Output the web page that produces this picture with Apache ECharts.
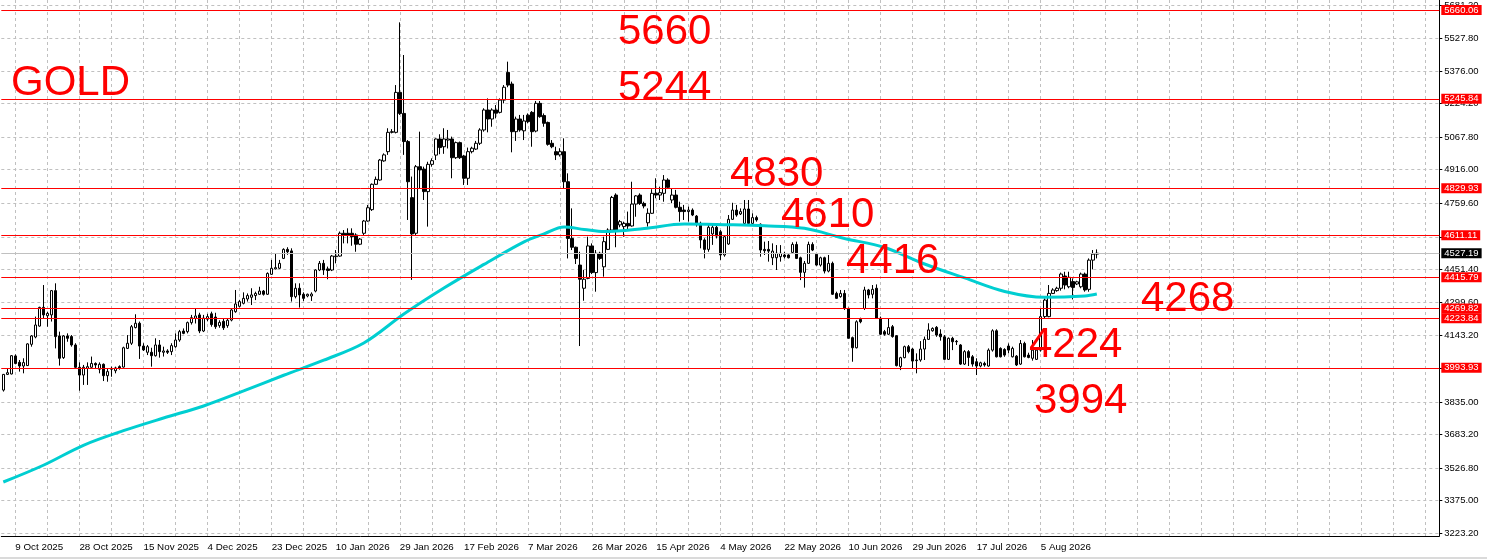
<!DOCTYPE html>
<html>
<head>
	<meta charset="UTF-8" />
	<title>GOLD Daily</title>
	<script src="https://cdn.jsdelivr.net/npm/echarts@6/dist/echarts.min.js"></script>
	<style>
		html, body { margin: 0; padding: 0; background: #fff; }
		#chart { width: 1487px; height: 559px; }
	</style>
</head>
<body>
	<div id="chart"></div>
	<script type="text/javascript">
		// date labels, one every 16 bars starting at bar 3
		const dateLabels = ['9 Oct 2025', '28 Oct 2025', '15 Nov 2025', '4 Dec 2025', '23 Dec 2025',
			'10 Jan 2026', '29 Jan 2026', '17 Feb 2026', '7 Mar 2026', '26 Mar 2026', '15 Apr 2026',
			'4 May 2026', '22 May 2026', '10 Jun 2026', '29 Jun 2026', '17 Jul 2026', '5 Aug 2026'];
		const barCount = 359;

		// price scale ticks (right side)
		const yTicks = [5681.2, 5527.8, 5376.0, 5224.2, 5067.8, 4916.0, 4759.6, 4603.2, 4451.4,
			4299.6, 4143.2, 3991.4, 3835.0, 3683.2, 3526.8, 3375.0, 3223.2];

		// horizontal levels and current bid
		const levels = [5660.06, 5245.84, 4829.93, 4611.11, 4415.79, 4269.82, 4223.84, 3993.93];
		const bidPrice = 4527.19;

		// daily bars: open, high, low, close
		const ohlc = [
			[3890, 3965, 3883, 3963], [3963, 3991, 3960, 3971], [3965, 4053, 3963, 4050], [4049, 4056, 4010, 4014],
			[4019, 4030, 3976, 4002], [4002, 4038, 3968, 4018], [4004, 4108, 4002, 4105], [4103, 4146, 4092, 4142],
			[4137, 4232, 4131, 4193], [4188, 4278, 4185, 4275], [4275, 4379, 4224, 4240], [4236, 4255, 4185, 4247],
			[4240, 4356, 4209, 4353], [4353, 4387, 4084, 4139], [4142, 4162, 4004, 4038], [4041, 4146, 4035, 4142],
			[4142, 4154, 4115, 4131], [4139, 4146, 4092, 4100], [4100, 4108, 3991, 3996], [3996, 4019, 3887, 3960],
			[3960, 4007, 3914, 3996], [3991, 4019, 3914, 3999], [3996, 4046, 3994, 4014], [4014, 4019, 3988, 4007],
			[3987, 4019, 3968, 4010], [4010, 4014, 3932, 3957], [3957, 3991, 3929, 3976], [3991, 3999, 3952, 3987],
			[3980, 3999, 3968, 3993], [3999, 4005, 3985, 3991], [3997, 4092, 3994, 4087], [4084, 4146, 4081, 4108],
			[4108, 4193, 4100, 4185], [4181, 4243, 4177, 4201], [4201, 4209, 4035, 4095], [4095, 4108, 4072, 4077],
			[4066, 4100, 4053, 4092], [4066, 4087, 3999, 4050], [4050, 4131, 4046, 4100], [4100, 4123, 4041, 4069],
			[4066, 4092, 4046, 4072], [4072, 4080, 4058, 4066], [4069, 4108, 4053, 4097], [4092, 4154, 4087, 4123],
			[4123, 4170, 4115, 4162], [4165, 4177, 4150, 4154], [4162, 4209, 4154, 4204], [4204, 4240, 4195, 4227],
			[4224, 4270, 4200, 4235], [4240, 4250, 4155, 4165], [4165, 4240, 4160, 4225], [4220, 4245, 4210, 4232],
			[4245, 4255, 4185, 4195], [4230, 4250, 4175, 4185], [4190, 4215, 4180, 4205], [4210, 4222, 4170, 4180],
			[4190, 4225, 4180, 4215], [4216, 4268, 4210, 4263], [4255, 4356, 4250, 4291], [4280, 4310, 4275, 4302],
			[4294, 4345, 4289, 4317], [4314, 4340, 4302, 4330], [4322, 4364, 4286, 4333], [4330, 4348, 4309, 4340],
			[4336, 4371, 4333, 4351], [4351, 4356, 4330, 4336], [4336, 4438, 4333, 4433], [4429, 4496, 4426, 4457],
			[4454, 4527, 4452, 4460], [4457, 4496, 4454, 4480], [4503, 4550, 4500, 4545], [4545, 4555, 4520, 4534],
			[4538, 4550, 4302, 4325], [4325, 4387, 4317, 4364], [4364, 4387, 4274, 4333], [4336, 4345, 4305, 4317],
			[4328, 4339, 4322, 4336], [4328, 4345, 4305, 4337], [4351, 4452, 4345, 4449], [4449, 4491, 4444, 4480],
			[4480, 4496, 4426, 4449], [4454, 4465, 4406, 4447], [4449, 4519, 4444, 4514], [4511, 4542, 4480, 4514],
			[4514, 4628, 4511, 4620], [4620, 4635, 4573, 4612], [4620, 4643, 4573, 4612], [4620, 4643, 4562, 4604],
			[4612, 4620, 4534, 4569], [4569, 4598, 4565, 4593], [4620, 4682, 4612, 4677], [4677, 4752, 4674, 4739],
			[4730, 4852, 4724, 4848], [4848, 4884, 4845, 4871], [4868, 4966, 4865, 4961], [4957, 4992, 4953, 4985],
			[5000, 5109, 4985, 5090], [5090, 5105, 5085, 5093], [5090, 5310, 5085, 5276], [5276, 5602, 5171, 5178],
			[5178, 5450, 4985, 5047], [5047, 5054, 4682, 4860], [4786, 4884, 4403, 4617], [4620, 4938, 4612, 4930],
			[4930, 5093, 4829, 4915], [4919, 4930, 4775, 4814], [4814, 4953, 4651, 4941], [4941, 4969, 4930, 4958],
			[4984, 5062, 4961, 5059], [5059, 5081, 4988, 5019], [5023, 5109, 4990, 5059], [5054, 5101, 5015, 5059],
			[5059, 5070, 4876, 4972], [4972, 5047, 4966, 5042], [5042, 5047, 4966, 4972], [4980, 4985, 4845, 4876],
			[4876, 5019, 4845, 5000], [5000, 5023, 4992, 5016], [5012, 5050, 5008, 5039], [5039, 5109, 5031, 5101],
			[5101, 5202, 5093, 5194], [5194, 5248, 5090, 5152], [5152, 5202, 5116, 5194], [5194, 5217, 5155, 5179],
			[5183, 5248, 5178, 5240], [5240, 5310, 5225, 5300], [5369, 5419, 5300, 5310], [5315, 5326, 4997, 5093],
			[5093, 5163, 5050, 5152], [5152, 5171, 5093, 5101], [5097, 5171, 5054, 5143], [5170, 5178, 5132, 5140],
			[5183, 5189, 5023, 5093], [5096, 5236, 5090, 5225], [5225, 5236, 5158, 5163], [5168, 5178, 5116, 5132],
			[5136, 5140, 5028, 5034], [5039, 5054, 5016, 5023], [5000, 5023, 4961, 4985], [4985, 5016, 4977, 5000],
			[5000, 5062, 4829, 4860], [4860, 4899, 4503, 4596], [4596, 4736, 4542, 4555], [4555, 4558, 4477, 4503],
			[4472, 4534, 4095, 4406], [4364, 4449, 4306, 4406], [4410, 4604, 4406, 4561], [4561, 4573, 4430, 4437],
			[4437, 4542, 4348, 4527], [4527, 4534, 4496, 4503], [4464, 4604, 4418, 4581], [4545, 4643, 4542, 4635],
			[4635, 4794, 4628, 4787], [4798, 4806, 4555, 4632], [4659, 4682, 4648, 4674], [4651, 4674, 4604, 4666],
			[4666, 4721, 4635, 4654], [4654, 4860, 4651, 4756], [4756, 4798, 4697, 4794], [4798, 4806, 4752, 4759],
			[4759, 4767, 4736, 4747], [4669, 4736, 4651, 4713], [4713, 4825, 4710, 4806], [4806, 4876, 4783, 4798],
			[4798, 4837, 4775, 4809], [4806, 4891, 4767, 4868], [4868, 4876, 4829, 4834], [4775, 4829, 4760, 4798],
			[4798, 4822, 4736, 4741], [4741, 4767, 4674, 4721], [4728, 4752, 4682, 4721], [4721, 4744, 4674, 4728],
			[4728, 4736, 4700, 4705], [4700, 4705, 4651, 4666], [4666, 4674, 4550, 4589], [4589, 4597, 4503, 4545],
			[4545, 4659, 4534, 4648], [4617, 4659, 4566, 4648], [4648, 4659, 4596, 4607], [4627, 4635, 4496, 4519],
			[4519, 4612, 4511, 4604], [4570, 4705, 4566, 4685], [4685, 4762, 4682, 4728], [4728, 4752, 4697, 4705],
			[4710, 4736, 4705, 4721], [4666, 4775, 4662, 4733], [4733, 4775, 4659, 4666], [4666, 4713, 4662, 4693],
			[4693, 4702, 4674, 4682], [4662, 4666, 4511, 4542], [4545, 4581, 4519, 4539], [4545, 4584, 4488, 4537],
			[4506, 4573, 4472, 4537], [4506, 4565, 4449, 4527], [4511, 4565, 4488, 4527], [4519, 4534, 4503, 4511],
			[4519, 4522, 4503, 4506], [4531, 4578, 4527, 4568], [4568, 4581, 4500, 4503], [4506, 4511, 4402, 4438],
			[4438, 4491, 4367, 4480], [4480, 4581, 4477, 4568], [4568, 4578, 4537, 4542], [4522, 4527, 4469, 4472],
			[4472, 4511, 4465, 4506], [4506, 4511, 4433, 4444], [4444, 4519, 4438, 4480], [4480, 4488, 4333, 4336],
			[4340, 4348, 4314, 4317], [4325, 4356, 4320, 4340], [4340, 4356, 4263, 4270], [4270, 4274, 4131, 4131],
			[4134, 4139, 4022, 4087], [4087, 4215, 4084, 4208], [4219, 4227, 4201, 4208], [4270, 4371, 4263, 4356],
			[4356, 4361, 4317, 4333], [4336, 4379, 4317, 4359], [4364, 4382, 4221, 4224], [4224, 4232, 4146, 4150],
			[4162, 4170, 4143, 4150], [4150, 4221, 4146, 4181], [4185, 4193, 4134, 4139], [4143, 4146, 4000, 4004],
			[4000, 4045, 3983, 4041], [4041, 4097, 4038, 4092], [4092, 4100, 4061, 4069], [4081, 4087, 3991, 4025],
			[4027, 4061, 3968, 4030], [4030, 4118, 4022, 4081], [4081, 4139, 4030, 4126], [4126, 4201, 4123, 4170],
			[4166, 4182, 4162, 4177], [4182, 4188, 4138, 4146], [4151, 4173, 4120, 4138], [4138, 4146, 4030, 4033],
			[4033, 4135, 4030, 4131], [4131, 4138, 4076, 4115], [4117, 4123, 4100, 4115], [4100, 4104, 4007, 4011],
			[4011, 4076, 4007, 4069], [4069, 4076, 4002, 4042], [4045, 4053, 3999, 4011], [4022, 4038, 3960, 4002],
			[4002, 4022, 3996, 4017], [4014, 4022, 3999, 4007], [4002, 4084, 3999, 4076], [4076, 4173, 4069, 4166],
			[4166, 4173, 4042, 4045], [4084, 4089, 4042, 4045], [4079, 4085, 4045, 4053], [4095, 4107, 4061, 4076],
			[4045, 4092, 4042, 4084], [4048, 4053, 4002, 4007], [4011, 4123, 4007, 4107], [4107, 4115, 4042, 4045],
			[4053, 4064, 4038, 4042], [4038, 4123, 4027, 4076], [4033, 4084, 4030, 4076], [4076, 4270, 4069, 4232],
			[4232, 4317, 4224, 4309], [4232, 4379, 4229, 4340], [4340, 4364, 4337, 4356], [4353, 4371, 4348, 4364],
			[4364, 4437, 4353, 4430], [4421, 4441, 4359, 4379], [4371, 4441, 4364, 4415], [4395, 4410, 4312, 4368],
			[4384, 4399, 4379, 4394], [4371, 4437, 4364, 4430], [4430, 4437, 4348, 4356], [4359, 4503, 4348, 4495],
			[4495, 4542, 4452, 4523], [4523, 4545, 4503, 4527.19]
		];

		// moving average read at sample bars: [bar index, value]
		const maPoints = [
			[0, 3462], [10, 3540], [20, 3633], [30, 3701], [40, 3760], [50, 3816], [60, 3886], [70, 3959],
			[80, 4029], [90, 4109], [100, 4244], [110, 4365], [120, 4475], [130, 4580], [135, 4617], [140, 4649],
			[145, 4638], [150, 4628], [160, 4642], [170, 4663], [180, 4660], [190, 4655], [200, 4643], [210, 4596],
			[220, 4554], [230, 4477], [240, 4412], [250, 4349], [260, 4322], [270, 4328], [273, 4337]
		];

		const labelStart = 3, labelStep = 16, gridStep = 8;
		const fontUi = 'Liberation Sans, Arial, sans-serif';

		const categories = [];
		for (let i = 0; i < barCount; i++) {
			const k = (i - labelStart) / labelStep;
			categories.push(Number.isInteger(k) && k >= 0 && k < dateLabels.length ? dateLabels[k] : '');
		}
		const isGridBar = (i) => i >= labelStart && (i - labelStart) % gridStep === 0;
		const isLabelBar = (i) => categories[i] !== '';

		const chart = echarts.init(document.getElementById('chart'), null, { renderer: 'canvas' });

		const note = (text, x, y) => ({
			type: 'text', x: x, y: y, z: 100,
			style: { text: text, fill: '#FF0000', font: '42px "Liberation Sans", Arial, sans-serif', verticalAlign: 'middle', align: 'left' }
		});

		chart.setOption({
			animation: false,
			backgroundColor: '#FFFFFF',
			grid: { left: 1.3, right: 47.7, top: 0, bottom: 23, containLabel: false, outerBoundsMode: 'none' },
			xAxis: {
				type: 'category',
				data: categories,
				boundaryGap: true,
				axisLine: { lineStyle: { color: '#000000', width: 1 } },
				axisTick: { interval: (i) => isGridBar(i), alignWithLabel: true, length: 2, lineStyle: { color: '#000000' } },
				axisLabel: {
					interval: (i) => isLabelBar(i), align: 'left', margin: 6,
					color: '#000000', fontSize: 9.8, fontFamily: fontUi
				},
				splitLine: { show: true, interval: (i) => isGridBar(i), alignWithLabel: true, lineStyle: { color: '#C0C0C0', type: [3, 3], width: 1 } }
			},
			yAxis: {
				type: 'value', position: 'right', min: 3210.6, max: 5706.1,
				axisLine: { show: true, lineStyle: { color: '#000000', width: 1 } },
				axisTick: { show: true, customValues: yTicks, length: 3, lineStyle: { color: '#000000' } },
				axisLabel: {
					customValues: yTicks, formatter: (v) => v.toFixed(2), margin: 5,
					color: '#000000', fontSize: 9.5, fontFamily: fontUi
				},
				splitLine: { show: false }
			},
			series: [
				{
					// horizontal price grid
					type: 'line', data: [], z: 1, silent: true,
					markLine: {
						z: 1, silent: true, symbol: 'none', animation: false,
						label: { show: false },
						lineStyle: { color: '#C0C0C0', type: [3, 3], width: 1 },
						data: yTicks.map((v) => ({ yAxis: v }))
					}
				},
				{
					type: 'candlestick',
					z: 3,
					barWidth: 3,
					data: ohlc.map(([o, h, l, c]) => [o, c, l, h]),
					itemStyle: { color: '#FFFFFF', color0: '#000000', borderColor: '#000000', borderColor0: '#000000', borderWidth: 1 },
					markLine: {
						z: 6, silent: true, symbol: 'none', animation: false,
						label: {
							show: true, position: 'end', distance: 2, color: '#FFFFFF', backgroundColor: '#FF0000',
							fontSize: 9.5, fontFamily: fontUi, lineHeight: 10, padding: [0, 3, 0, 3]
						},
						lineStyle: { color: '#FF0000', type: 'solid', width: 1 },
						data: levels.map((v) => ({ yAxis: v, label: { formatter: v.toFixed(2) } })).concat([{
							yAxis: bidPrice,
							lineStyle: { color: '#C0C0C0', type: 'solid', width: 1 },
							label: { formatter: bidPrice.toFixed(2), backgroundColor: '#000000' }
						}])
					}
				},
				{
					type: 'line', z: 4, silent: true,
					data: maPoints,
					smooth: 0.35,
					showSymbol: false,
					lineStyle: { color: '#00CED1', width: 3 }
				}
			],
			graphic: [
				note('GOLD', 11, 83),
				note('5660', 618, 32),
				note('5244', 618, 88),
				note('4830', 730, 174),
				note('4610', 781, 215),
				note('4416', 846, 261),
				note('4268', 1141, 299),
				note('4224', 1029, 345),
				note('3994', 1034, 401),
				{ type: 'rect', z: 100, shape: { x: 0, y: 557, width: 1487, height: 2 }, style: { fill: '#DADADA' } }
			]
		});
	</script>
</body>
</html>
